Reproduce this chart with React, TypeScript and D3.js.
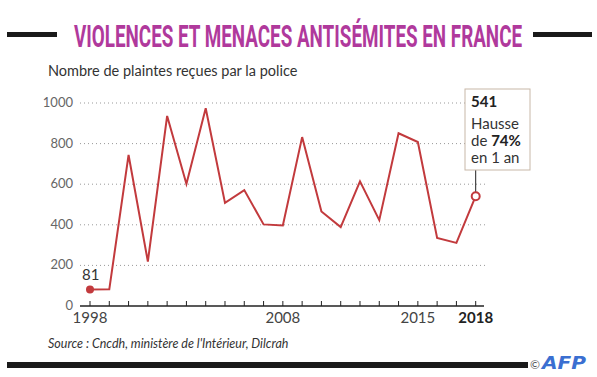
import React, { useLayoutEffect, useRef, useState } from "react";
import * as d3 from "d3";

const YEARS = [1998, 1999, 2000, 2001, 2002, 2003, 2004, 2005, 2006, 2007, 2008, 2009, 2010, 2011, 2012, 2013, 2014, 2015, 2016, 2017, 2018];
const PLAINTES = [81, 82, 744, 219, 936, 601, 974, 508, 571, 402, 397, 832, 466, 389, 614, 423, 851, 808, 335, 311, 541];
const Y_TICKS = [0, 200, 400, 600, 800, 1000];
const X_LABELS = [1998, 2008, 2015, 2018];

const TITLE = "VIOLENCES ET MENACES ANTISÉMITES EN FRANCE";
const SUBTITLE = "Nombre de plaintes reçues par la police";
const SOURCE = "Source : Cncdh, ministère de l'Intérieur, Dilcrah";

const W = 597;
const H = 377;
const RED = "#c23a3d";
const FONT = "Lato, 'Open Sans', sans-serif";

export default function App() {
  const titleRef = useRef<SVGTextElement>(null);
  const [titleScale, setTitleScale] = useState(0.6);

  useLayoutEffect(() => {
    if (titleRef.current) {
      const w = titleRef.current.getComputedTextLength();
      if (w > 0) setTitleScale(448 / w);
    }
  }, []);

  const x = d3.scaleLinear().domain([1998, 2018]).range([90, 475.7]);
  const y = d3.scaleLinear().domain([0, 1000]).range([306, 103]);
  const line = d3
    .line<number>()
    .x((_, i) => x(YEARS[i]))
    .y((d) => y(d));
  const lastI = PLAINTES.length - 1;
  const lx = x(YEARS[lastI]);
  const ly = y(PLAINTES[lastI]);

  return (
    <svg
      width={W}
      height={H}
      style={{ position: "absolute", left: 0, top: 0, background: "#fff" }}
      fontFamily={FONT}
    >
      <rect x={0} y={0} width={W} height={H} fill="#fff" />
      {/* Title */}
      <rect x={7} y={32} width={50} height={5} fill="#1a1a1a" />
      <rect x={533} y={32} width={59} height={5} fill="#1a1a1a" />
      <g transform={`translate(74,47) scale(${titleScale},1)`}>
        <text
          ref={titleRef}
          x={0}
          y={0}
          fontFamily="Roboto, sans-serif"
          fontWeight={700}
          fontSize={31}
          fill="#b0399c"
        >
          {TITLE}
        </text>
      </g>
      <text x={48} y={76} fontSize={14.5} fill="#333">
        {SUBTITLE}
      </text>

      {/* Gridlines */}
      {Y_TICKS.filter((v) => v > 0).map((v) => (
        <line
          key={"g" + v}
          x1={80}
          x2={487}
          y1={y(v)}
          y2={y(v)}
          stroke="#999"
          strokeWidth={1}
          strokeDasharray="1,3"
        />
      ))}
      {Y_TICKS.map((v) => (
        <text
          key={"yl" + v}
          x={73}
          y={y(v) - 1}
          textAnchor="end"
          dominantBaseline="central"
          fontSize={13}
          fill="#666"
        >
          {v}
        </text>
      ))}

      {/* X axis */}
      <line x1={80} x2={484} y1={306} y2={306} stroke="#222" strokeWidth={1.5} />
      {YEARS.map((yr) => (
        <line key={"t" + yr} x1={x(yr)} x2={x(yr)} y1={301} y2={306} stroke="#222" strokeWidth={1} />
      ))}
      {X_LABELS.map((yr) => (
        <text
          key={"xl" + yr}
          x={x(yr)}
          y={323}
          textAnchor="middle"
          fontSize={15}
          fontWeight={yr === 2018 ? 700 : 400}
          fill={yr === 2018 ? "#222" : "#444"}
        >
          {yr}
        </text>
      ))}

      {/* Line */}
      <path d={line(PLAINTES) || ""} fill="none" stroke={RED} strokeWidth={2} strokeLinejoin="miter" />
      <circle cx={x(YEARS[0])} cy={y(PLAINTES[0])} r={4} fill={RED} />
      <text x={x(YEARS[0]) - 8} y={280} fontSize={15} fill="#333">
        {PLAINTES[0]}
      </text>

      {/* Annotation */}
      <line x1={lx} x2={lx} y1={170} y2={ly - 4} stroke="#222" strokeWidth={1} />
      <circle cx={lx} cy={ly} r={4} fill="#fff" stroke={RED} strokeWidth={2} />
      <rect x={465} y={89} width={65} height={81} fill="#fff" stroke="#c8b8a8" strokeWidth={1} />
      <text x={471} y={107} fontSize={15} fontWeight={700} fill="#222">
        {PLAINTES[lastI]}
      </text>
      <text x={471} y={129} fontSize={15} fill="#333">
        Hausse
      </text>
      <text x={471} y={146} fontSize={15} fill="#333">
        de <tspan fontWeight={700} fill="#222">74%</tspan>
      </text>
      <text x={471} y={163} fontSize={15} fill="#333">
        en 1 an
      </text>

      {/* Source */}
      <text x={48} y={348} fontSize={12.5} fontStyle="italic" fill="#333">
        {SOURCE}
      </text>

      {/* Footer */}
      <rect x={7} y={362} width={521} height={6} fill="#1a1a1a" />
      <text x={530} y={369} fontSize={12} fill="#555">
        ©
      </text>
      <text
        x={542}
        y={369}
        fontFamily="'DejaVu Sans', sans-serif"
        fontWeight={700}
        fontStyle="italic"
        fontSize={17}
        fill="#3b6fd1"
        textLength={44}
        lengthAdjust="spacingAndGlyphs"
      >
        AFP
      </text>
    </svg>
  );
}
